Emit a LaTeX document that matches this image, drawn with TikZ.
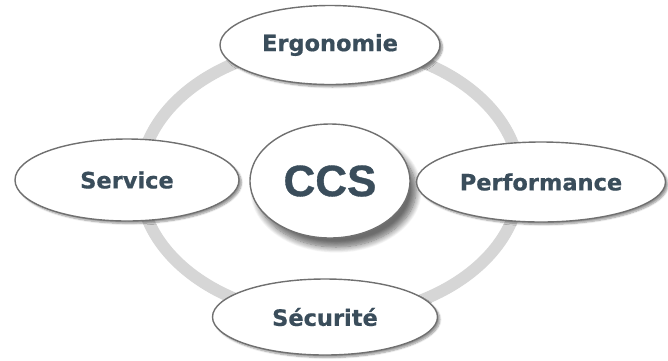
\documentclass[tikz,border=0pt]{standalone}
\usepackage{fontspec}
\usepackage{tikz}
\usetikzlibrary{shapes,shadows.blur}
\newfontfamily\labelfont[FakeBold=0.6]{DejaVu Sans Bold}
\newfontfamily\ccsfont[FakeBold=0.8]{Liberation Sans Bold}
\definecolor{ringGray}{RGB}{214,214,214}
\definecolor{borderGray}{RGB}{112,112,112}
\definecolor{slate}{RGB}{58,77,91}

\begin{document}
\begin{tikzpicture}[x=1pt, y=-1pt]%
  \tikzset{pillar/.style={ellipse, draw=borderGray, line width=1.4pt, fill=white, inner sep=0pt,
      text=slate, font=\labelfont\fontsize{22.5}{26}\selectfont,
      blur shadow={shadow xshift=2.5pt, shadow yshift=-2.5pt, shadow blur steps=6, shadow opacity=40}}}
  \tikzstyle{core}=[pillar, font=\ccsfont\fontsize{44}{48}\selectfont,
      blur shadow={shadow xshift=6pt, shadow yshift=-9pt, shadow blur radius=6pt, shadow blur steps=10, shadow opacity=35}]

  \useasboundingbox (0,0) rectangle (668,360);
  \coordinate (mid) at (330,181);
  \draw[ringGray, line width=12pt] (mid) ellipse [x radius=190, y radius=136];

  \node[core, minimum width=160pt, minimum height=114pt] at (mid) (CCS) {CCS};
  \node[pillar, minimum width=220pt, minimum height=79pt] at (330,45) (ERGO) {Ergonomie};
  \node[pillar, minimum width=224pt, minimum height=82pt] at (127,180) (SERV) {Service};
  \node[pillar, minimum width=249pt, minimum height=80pt] at (541,182) (PERF) {Performance};
  \node[pillar, minimum width=225pt, minimum height=76pt] at (325,317) (SECU) {Sécurité};

\end{tikzpicture}
\end{document}
